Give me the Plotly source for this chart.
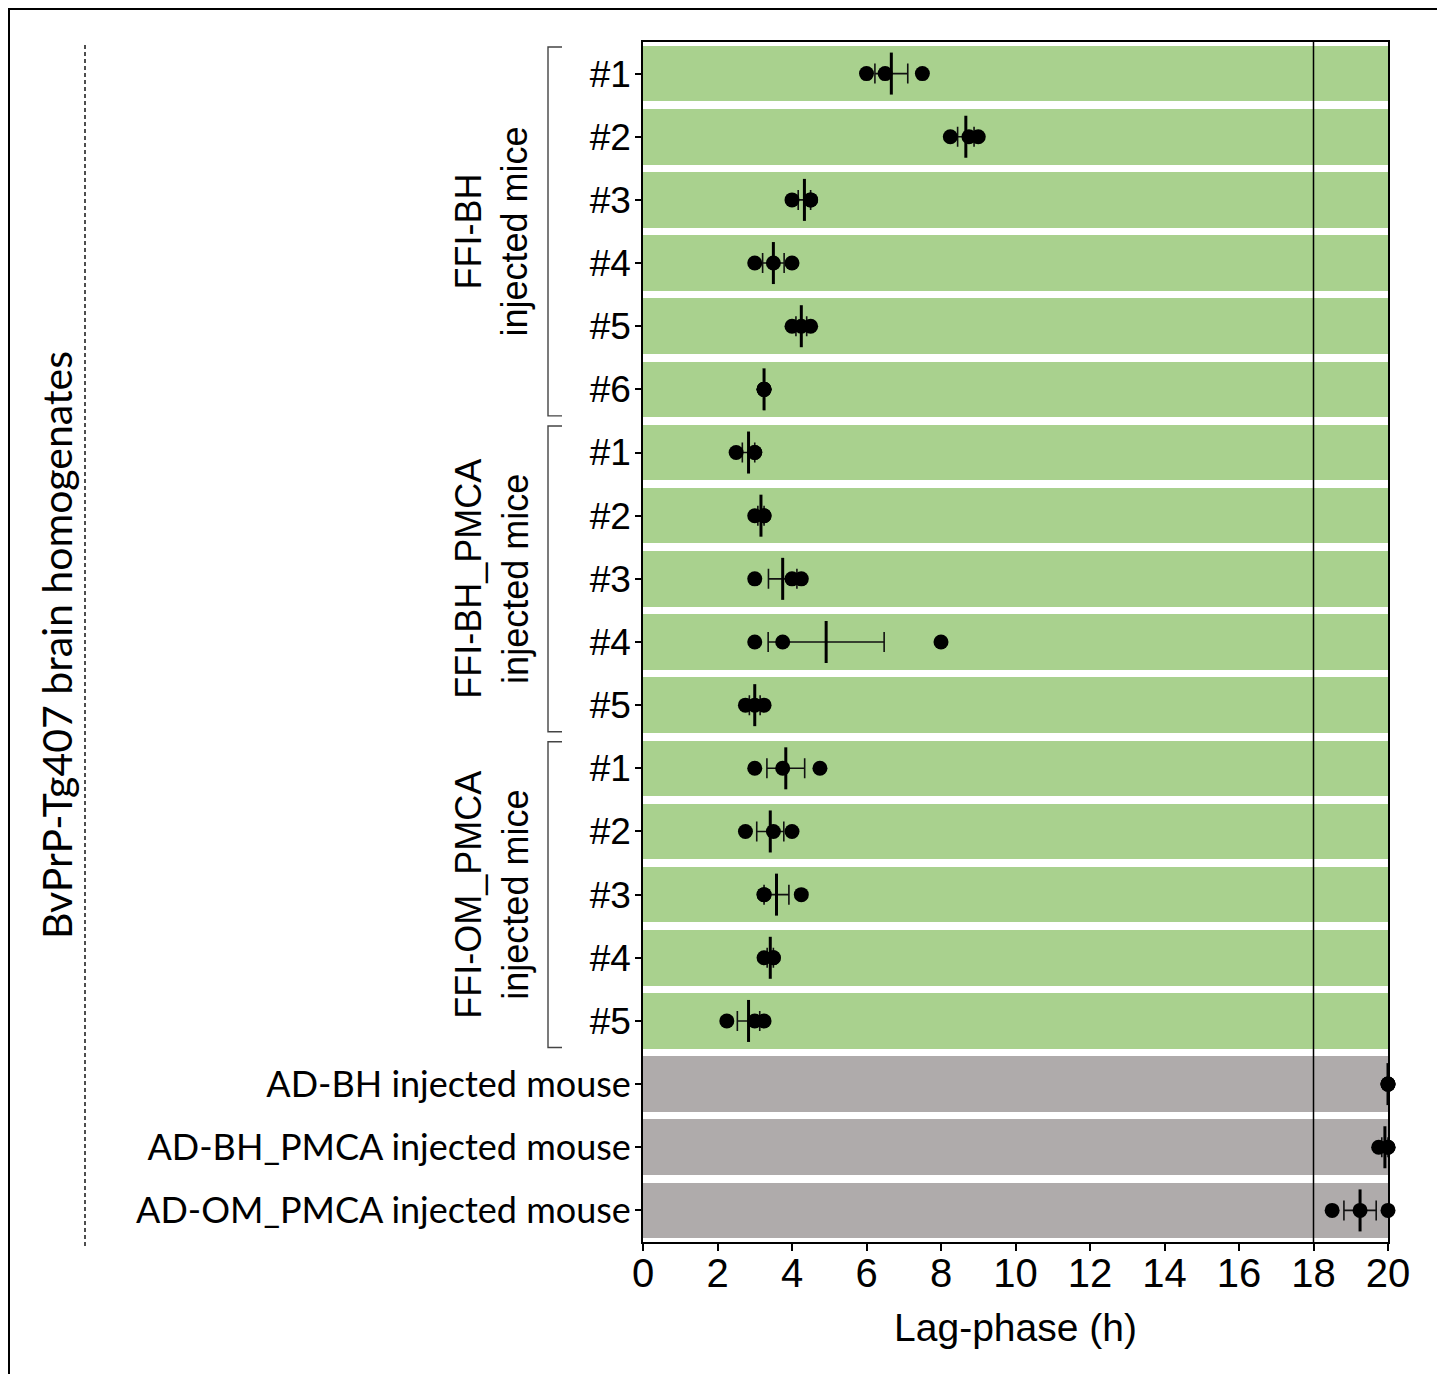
import numpy as np
import plotly.graph_objects as go

# ---------------- data ----------------
ffi_bh_labels = ["#1", "#2", "#3", "#4", "#5", "#6"]
ffi_bh_values = [
    [6.0, 6.5, 7.5],
    [8.25, 8.75, 9.0],
    [4.0, 4.5, 4.5],
    [3.0, 3.5, 4.0],
    [4.0, 4.25, 4.5],
    [3.25, 3.25, 3.25],
]
ffi_bh_pmca_labels = ["#1", "#2", "#3", "#4", "#5"]
ffi_bh_pmca_values = [
    [2.5, 3.0, 3.0],
    [3.0, 3.25, 3.25],
    [3.0, 4.0, 4.25],
    [3.0, 3.75, 8.0],
    [2.75, 3.0, 3.25],
]
ffi_om_pmca_labels = ["#1", "#2", "#3", "#4", "#5"]
ffi_om_pmca_values = [
    [3.0, 3.75, 4.75],
    [2.75, 3.5, 4.0],
    [3.25, 3.25, 4.25],
    [3.25, 3.5, 3.5],
    [2.25, 3.0, 3.25],
]
ad_labels = ["AD-BH injected mouse", "AD-BH_PMCA injected mouse", "AD-OM_PMCA injected mouse"]
ad_values = [
    [20.0, 20.0, 20.0],
    [19.75, 20.0, 20.0],
    [18.5, 19.25, 20.0],
]
x_max = 20
threshold = 18
x_ticks = list(range(0, 21, 2))

group_titles = ["FFI-BH<br>injected mice", "FFI-BH_PMCA<br>injected mice", "FFI-OM_PMCA<br>injected mice"]
side_title = "BvPrP-Tg407 brain homogenates"

# ---------------- assemble ----------------
GREEN = "#A9D18E"
GRAY = "#AFABAB"
ARIAL = "Liberation Sans, Arial, sans-serif"
CAL = "Lato, Open Sans, sans-serif"

all_values = ffi_bh_values + ffi_bh_pmca_values + ffi_om_pmca_values + ad_values
n_green = len(ffi_bh_values) + len(ffi_bh_pmca_values) + len(ffi_om_pmca_values)
pos = list(range(len(all_values)))
tick_text = ffi_bh_labels + ffi_bh_pmca_labels + ffi_om_pmca_labels + [
    f'<span style="font-family:{CAL};font-size:36px">{t}</span>' for t in ad_labels]
colors = [GREEN] * n_green + [GRAY] * len(ad_values)

means = [float(np.mean(v)) for v in all_values]
sems = [float(np.std(v, ddof=1) / np.sqrt(len(v))) for v in all_values]

fig = go.Figure()
fig.add_trace(go.Bar(
    orientation="h", y=pos, x=[x_max] * len(pos), width=0.88,
    marker=dict(color=colors, line=dict(width=0)), hoverinfo="skip", showlegend=False))

# error bars (SEM)
fig.add_trace(go.Scatter(
    x=means, y=pos, mode="markers", marker=dict(size=1, color="rgba(0,0,0,0)"),
    error_x=dict(type="data", array=sems, color="#111111", thickness=1.6, width=10),
    showlegend=False, cliponaxis=False))

# individual points
px, py = [], []
for i, v in enumerate(all_values):
    px += v
    py += [i] * len(v)
fig.add_trace(go.Scatter(
    x=px, y=py, mode="markers", marker=dict(size=15, color="black"),
    showlegend=False, cliponaxis=False))

# mean marks
fig.add_trace(go.Scatter(
    x=means, y=pos, mode="markers",
    marker=dict(symbol="line-ns", size=30, line=dict(width=3, color="black")),
    showlegend=False, cliponaxis=False))

# threshold line
fig.add_shape(type="line", x0=threshold, x1=threshold, y0=0, y1=1, xref="x", yref="paper",
              line=dict(color="black", width=1.5), layer="above")

# page geometry (screen pixels; the page body adds an 8px offset)
OFF = 8
L = 643.0
W = 745.0
def px2paper(p):
    return (p - L) / W

def py2paper(p):
    return (1242.0 - p) / 1200.0

groups = [(0, len(ffi_bh_values) - 1), (6, 10), (11, 15)]
bx0 = px2paper(548)
bx1 = px2paper(562)
for (a, b), title in zip(groups, group_titles):
    ya = a - 0.42
    yb = b + 0.42
    fig.add_shape(type="path", xref="paper", yref="y",
                  path=f"M {bx1} {ya} L {bx0} {ya} L {bx0} {yb} L {bx1} {yb}",
                  line=dict(color="#444444", width=1.4))
    fig.add_annotation(x=px2paper(492), y=(a + b) / 2, xref="paper", yref="y",
                       text=title, textangle=-90, showarrow=False,
                       font=dict(family=ARIAL, size=36, color="black"),
                       xanchor="center", yanchor="middle")

# side title and dashed line
fig.add_annotation(x=px2paper(57), y=py2paper(645), xref="paper", yref="paper",
                   text=side_title, textangle=-90, showarrow=False,
                   font=dict(family=CAL, size=41, color="black"),
                   xanchor="center", yanchor="middle")
fig.add_shape(type="line", xref="paper", yref="paper",
              x0=px2paper(85), x1=px2paper(85), y0=py2paper(1246), y1=py2paper(45),
              line=dict(color="#222222", width=1.6, dash="4px,3px"))

# outer frame
fig.add_shape(type="rect", xref="paper", yref="paper",
              x0=px2paper(9), x1=px2paper(1439), y0=py2paper(1400), y1=py2paper(9),
              line=dict(color="black", width=2), layer="above")

fig.update_layout(
    width=1445 - OFF, height=1374 - OFF,
    margin=dict(l=643 - OFF, r=(1445 - OFF) - (1388 - OFF), t=42 - OFF, b=(1374 - OFF) - (1242 - OFF)),
    plot_bgcolor="white", paper_bgcolor="white",
    bargap=0, showlegend=False,
    xaxis=dict(range=[0, x_max], tickvals=x_ticks, ticks="outside", ticklen=7, tickwidth=1.5,
               tickcolor="black", showline=True, linecolor="black", linewidth=1.5, mirror=True,
               showgrid=False, zeroline=False, ticklabelstandoff=-12,
               tickfont=dict(family=ARIAL, size=40, color="black"),
               title=dict(text="Lag-phase (h)", font=dict(family=ARIAL, size=39, color="black"),
                          standoff=20)),
    yaxis=dict(range=[len(pos) - 0.5, -0.5], tickvals=pos, ticktext=tick_text,
               ticks="outside", ticklen=6, tickwidth=1.5, tickcolor="black",
               showline=True, linecolor="black", linewidth=1.5, mirror=True,
               showgrid=False, zeroline=False, ticklabelstandoff=-3,
               tickfont=dict(family=ARIAL, size=37, color="black")),
)

fig.write_html("out.html")
